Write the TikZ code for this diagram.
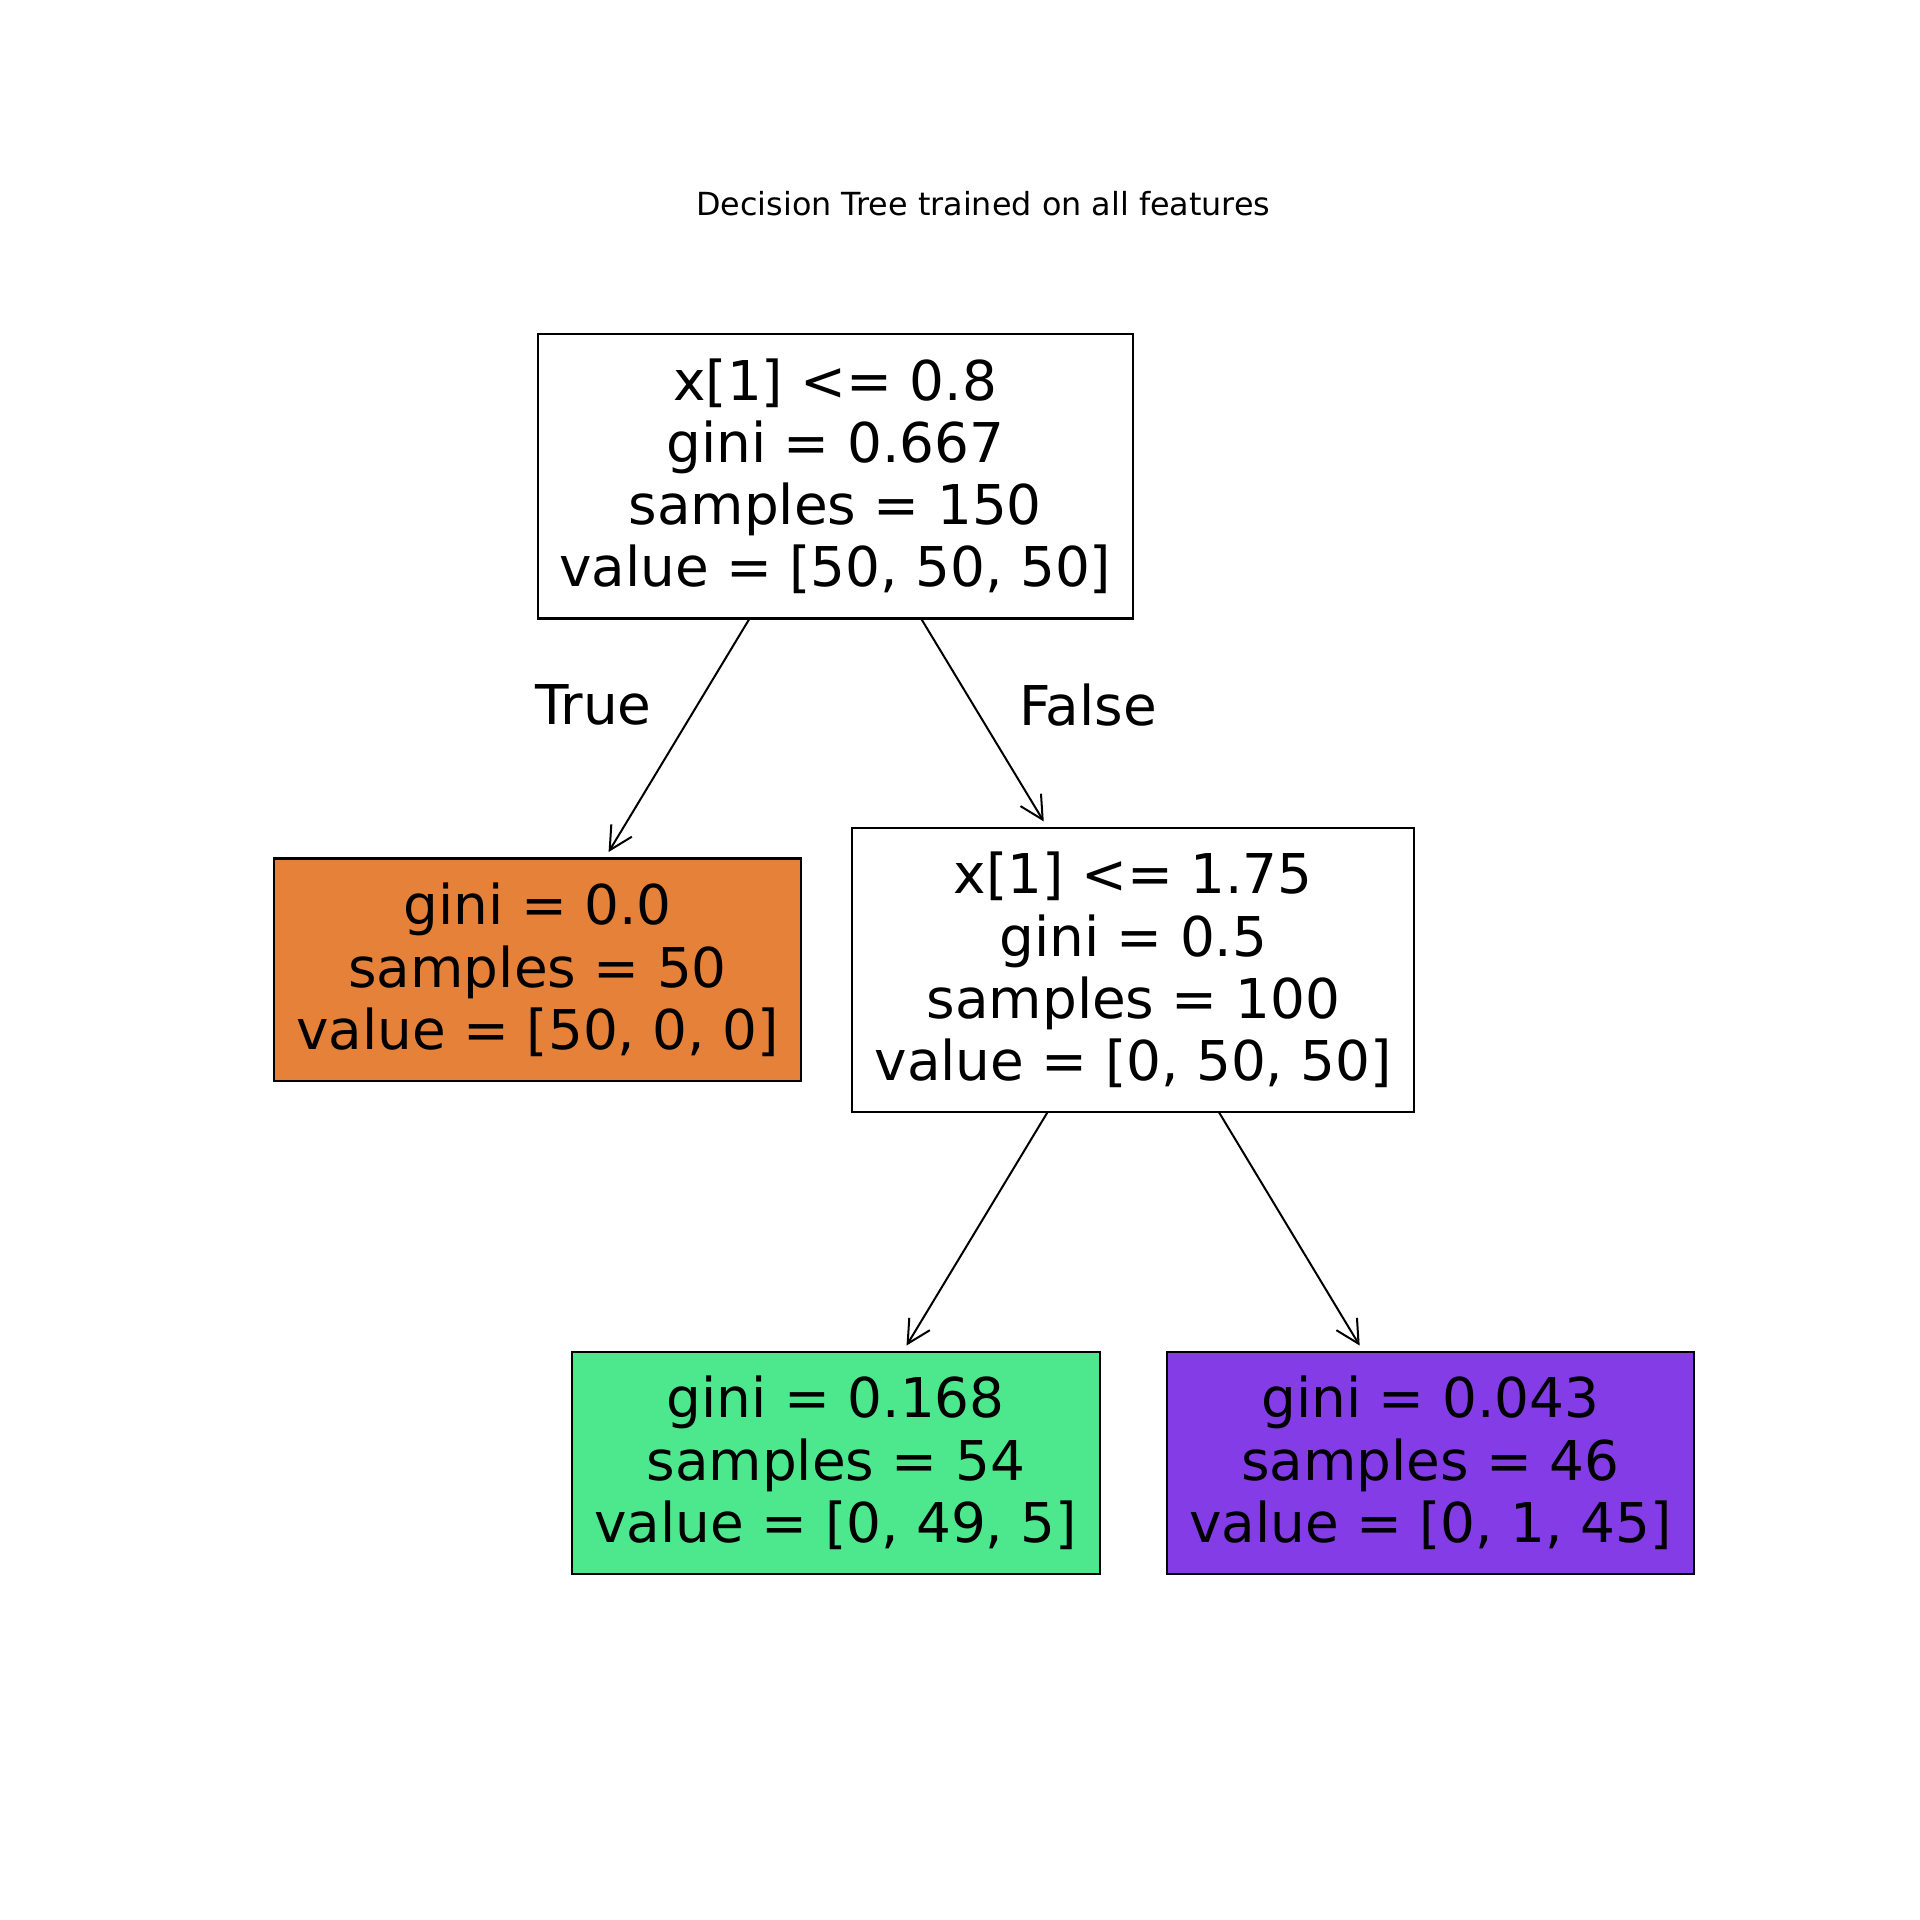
\documentclass[tikz,border=0pt]{standalone}
\usepackage{fontspec}
\setmainfont{DejaVu Sans}
\usetikzlibrary{arrows.meta}
\definecolor{cOrange}{HTML}{E58139}
\definecolor{cGreen}{HTML}{4DE88E}
\definecolor{cPurple}{HTML}{843DE6}
\tikzset{
  treebox/.style={draw=black, line width=0.22mm, inner sep=0pt, outer sep=0pt, align=center,
    font=\fontsize{15.6}{17.7}\selectfont},
  edgelbl/.style={font=\fontsize{15.6}{17.7}\selectfont, inner sep=0pt},
  arr/.style={line width=0.2mm, -{Straight Barb[length=2.3mm,width=2.4mm,line width=0.2mm]}, shorten >=0.75mm}
}
\begin{document}
\begin{tikzpicture}[x=0.1mm,y=-0.1mm]
\useasboundingbox (0,0) rectangle (1920,1920);
\fill[white] (0,0) rectangle (1920,1920);
\node[font=\fontsize{9.05}{11}\selectfont, inner sep=0pt] (title) at (983.3,203.3) {Decision Tree trained on all features};
\node[treebox, fill=white, minimum width=59.51mm, minimum height=28.41mm] (root) at (835.2,476.4)
  {x[1] <= 0.8\\gini = 0.667\\samples = 150\\value = [50, 50, 50]};
\node[treebox, fill=cOrange, minimum width=52.65mm, minimum height=22.29mm] (left) at (537.6,969.9)
  {gini = 0.0\\samples = 50\\value = [50, 0, 0]};
\node[treebox, fill=white, minimum width=56.2mm, minimum height=28.41mm] (mid) at (1133.3,969.9)
  {x[1] <= 1.75\\gini = 0.5\\samples = 100\\value = [0, 50, 50]};
\node[treebox, fill=cGreen, minimum width=52.77mm, minimum height=22.17mm] (green) at (835.8,1462.8)
  {gini = 0.168\\samples = 54\\value = [0, 49, 5]};
\node[treebox, fill=cPurple, minimum width=52.66mm, minimum height=22.17mm] (purple) at (1430.3,1462.8)
  {gini = 0.043\\samples = 46\\value = [0, 1, 45]};
\node[edgelbl] (tl) at (593.3,705.3) {True};
\node[edgelbl] (fl) at (1088,705.3) {False};
\draw[arr] (root) -- (left);
\draw[arr] (root) -- (mid);
\draw[arr] (mid) -- (green);
\draw[arr] (mid) -- (purple);
\end{tikzpicture}
\end{document}
